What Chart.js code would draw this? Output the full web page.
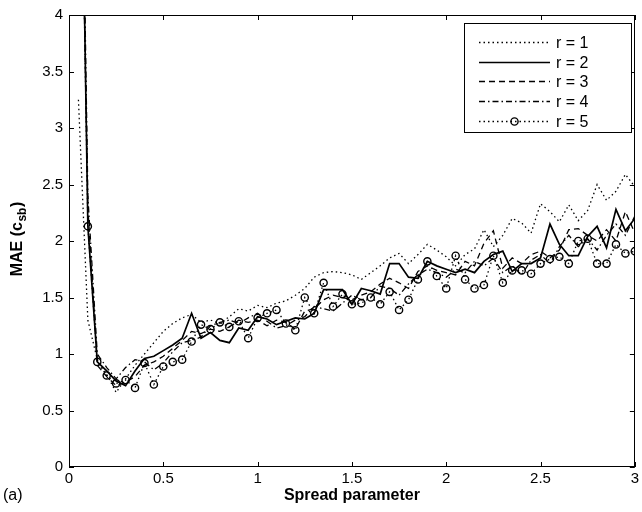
<!DOCTYPE html>
<html><head><meta charset="utf-8">
<script src="https://cdn.jsdelivr.net/npm/chart.js@4/dist/chart.umd.min.js"></script>
<style>html,body{margin:0;padding:0;background:#fff}#wrap{width:642px;height:512px;position:relative}</style>
</head><body><div id="wrap"><canvas id="c" width="642" height="512"></canvas></div>
<script>
const spread = [0.05,0.1,0.15,0.2,0.25,0.3,0.35,0.4,0.45,0.5,0.55,0.6,0.65,0.7,0.75,0.8,0.85,0.9,0.95,1.0,
  1.05,1.1,1.15,1.2,1.25,1.3,1.35,1.4,1.45,1.5,1.55,1.6,1.65,1.7,1.75,1.8,1.85,1.9,1.95,2.0,
  2.05,2.1,2.15,2.2,2.25,2.3,2.35,2.4,2.45,2.5,2.55,2.6,2.65,2.7,2.75,2.8,2.85,2.9,2.95,3.0];
const r1 = [3.25,1.30,0.95,0.82,0.66,0.78,0.90,1.00,1.10,1.20,1.27,1.32,1.35,1.28,1.30,1.27,1.33,1.40,1.38,1.43,
  1.41,1.45,1.47,1.52,1.58,1.68,1.72,1.73,1.72,1.70,1.66,1.72,1.78,1.85,1.89,1.80,1.88,1.97,1.92,1.86,
  1.78,1.88,1.93,2.10,1.95,2.05,2.20,2.16,2.07,2.33,2.26,2.17,2.32,2.18,2.27,2.50,2.36,2.44,2.59,2.48];
const r2 = [7.5,2.13,0.93,0.85,0.76,0.72,0.85,0.96,0.98,1.03,1.08,1.14,1.36,1.14,1.19,1.12,1.10,1.23,1.21,1.33,
  1.31,1.26,1.29,1.32,1.31,1.36,1.57,1.57,1.57,1.44,1.58,1.56,1.53,1.80,1.80,1.68,1.67,1.82,1.78,1.75,
  1.72,1.75,1.72,1.82,1.88,1.91,1.73,1.80,1.80,1.85,2.15,1.97,1.87,1.87,2.04,2.13,1.94,2.28,2.09,2.20];
const r3 = [7.0,2.30,0.90,0.80,0.72,0.75,0.80,0.90,0.93,0.98,1.05,1.12,1.20,1.18,1.22,1.20,1.24,1.30,1.28,1.30,
  1.25,1.30,1.28,1.22,1.38,1.40,1.48,1.52,1.50,1.48,1.52,1.55,1.62,1.67,1.63,1.58,1.73,1.78,1.74,1.72,
  1.70,1.82,1.78,1.98,2.09,1.76,1.85,1.80,1.88,1.91,1.85,1.92,2.10,2.11,2.05,2.00,2.10,2.00,2.26,2.07];
const r4 = [7.8,2.40,1.00,0.88,0.78,0.88,0.95,0.93,0.86,0.92,1.02,1.10,1.12,1.15,1.25,1.28,1.30,1.27,1.32,1.36,
  1.29,1.23,1.25,1.30,1.33,1.42,1.40,1.38,1.45,1.52,1.48,1.50,1.60,1.58,1.52,1.62,1.70,1.75,1.72,1.68,
  1.75,1.72,1.82,1.78,1.85,1.72,1.78,1.70,1.83,1.88,1.80,1.95,2.05,1.95,2.02,1.92,2.05,2.15,2.05,2.22];
const r5 = [7.2,2.13,0.93,0.81,0.74,0.77,0.70,0.92,0.73,0.89,0.93,0.95,1.11,1.26,1.22,1.28,1.24,1.29,1.14,1.32,
  1.36,1.39,1.27,1.21,1.50,1.36,1.63,1.42,1.53,1.44,1.45,1.50,1.44,1.55,1.39,1.48,1.66,1.82,1.69,1.58,
  1.87,1.66,1.58,1.61,1.87,1.63,1.74,1.74,1.71,1.80,1.84,1.86,1.80,2.00,2.02,1.80,1.80,1.97,1.89,1.91];
const seriesLabels = ['r = 1','r = 2','r = 3','r = 4','r = 5'];
const xTickValues = [0,0.5,1,1.5,2,2.5,3];
const yTickValues = [0,0.5,1,1.5,2,2.5,3,3.5,4];
const xTitle = 'Spread parameter';
const yTitleMain = 'MAE (c';
const yTitleSub = 'sb';
const yTitleEnd = ')';
const panelLabel = '(a)';

const FONT = '"Liberation Sans", Arial, Helvetica, sans-serif';
const styles = [
  {borderDash:[1.5,3], borderWidth:1.3, pointRadius:0},
  {borderDash:[], borderWidth:1.7, pointRadius:0},
  {borderDash:[6,4], borderWidth:1.3, pointRadius:0},
  {borderDash:[6,3,1.5,3], borderWidth:1.3, pointRadius:0},
  {borderDash:[1.5,3], borderWidth:1.3, pointRadius:3.6}
];
const allSeries = [r1,r2,r3,r4,r5];
const datasets = allSeries.map((s,k)=>Object.assign({
  label: seriesLabels[k],
  data: spread.map((x,i)=>({x:x, y:s[i]})),
  borderColor:'#000',
  backgroundColor:'rgba(0,0,0,0)',
  pointBorderColor:'#000',
  pointBackgroundColor:'rgba(0,0,0,0)',
  pointBorderWidth:1.4,
  pointStyle:'circle',
  tension:0,
  fill:false
}, styles[k]));

const framePlugin = {
  id:'frame',
  afterDatasetsDraw(chart){
    const {ctx, chartArea:a, scales} = chart;
    const xs = scales.x, ys = scales.y;
    ctx.save();
    ctx.setLineDash([]);
    ctx.strokeStyle = '#000';
    ctx.lineWidth = 1;
    ctx.strokeRect(Math.round(a.left)+0.5, Math.round(a.top)+0.5, Math.round(a.right-a.left)-1, Math.round(a.bottom-a.top)-1);
    const L = 5;
    ctx.beginPath();
    xTickValues.forEach(v=>{
      const px = Math.round(xs.getPixelForValue(v))+0.5;
      ctx.moveTo(px, a.bottom); ctx.lineTo(px, a.bottom-L);
      ctx.moveTo(px, a.top); ctx.lineTo(px, a.top+L);
    });
    yTickValues.forEach(v=>{
      const py = Math.round(ys.getPixelForValue(v))+0.5;
      ctx.moveTo(a.left, py); ctx.lineTo(a.left+L, py);
      ctx.moveTo(a.right, py); ctx.lineTo(a.right-L, py);
    });
    ctx.stroke();

    // legend box
    const lx = Math.round(a.right-171), ly = Math.round(a.top+8), lw = 167, lh = 109;
    ctx.fillStyle = '#fff';
    ctx.fillRect(lx, ly, lw, lh);
    ctx.strokeRect(lx+0.5, ly+0.5, lw, lh);
    chart.data.datasets.forEach((ds,i)=>{
      const y = Math.round(ly + 19 + i*19.7)+0.5;
      const x0 = lx+15, x1 = lx+86;
      ctx.save();
      ctx.setLineDash(ds.borderDash||[]);
      ctx.lineWidth = ds.borderWidth;
      ctx.beginPath(); ctx.moveTo(x0,y); ctx.lineTo(x1,y); ctx.stroke();
      ctx.restore();
      if (ds.pointRadius>0){
        ctx.setLineDash([]);
        ctx.lineWidth = ds.pointBorderWidth;
        ctx.beginPath(); ctx.arc((x0+x1)/2, y, ds.pointRadius, 0, Math.PI*2); ctx.stroke();
      }
      ctx.fillStyle = '#000';
      ctx.font = '16px '+FONT;
      ctx.textBaseline = 'middle';
      ctx.textAlign = 'left';
      ctx.fillText(ds.label, lx+92, y+1);
    });
    ctx.restore();
  },
  afterDraw(chart){
    const ctx = chart.ctx;
    ctx.save();
    ctx.fillStyle = '#000';
    // y title with subscript
    ctx.translate(18, 239);
    ctx.rotate(-Math.PI/2);
    const fMain = 'bold 16px '+FONT, fSub = 'bold 12px '+FONT;
    ctx.font = fMain; const w1 = ctx.measureText(yTitleMain).width; const w3 = ctx.measureText(yTitleEnd).width;
    ctx.font = fSub; const w2 = ctx.measureText(yTitleSub).width;
    const tot = w1+w2+w3+1;
    let x = -tot/2;
    ctx.textBaseline = 'alphabetic'; ctx.textAlign = 'left';
    ctx.font = fMain; ctx.fillText(yTitleMain, x, 4); x += w1+0.5;
    ctx.font = fSub; ctx.fillText(yTitleSub, x, 8); x += w2+0.5;
    ctx.font = fMain; ctx.fillText(yTitleEnd, x, 4);
    ctx.restore();
    ctx.save();
    ctx.fillStyle = '#000';
    ctx.font = '16px '+FONT;
    ctx.textBaseline = 'middle';
    ctx.fillText(panelLabel, 3, 496);
    ctx.restore();
  }
};

new Chart(document.getElementById('c'), {
  type:'line',
  data:{datasets},
  options:{
    responsive:false,
    devicePixelRatio:1,
    animation:false,
    layout:{padding:{top:11,right:5,left:0,bottom:0}},
    plugins:{legend:{display:false}, tooltip:{enabled:false}},
    elements:{line:{borderCapStyle:'butt'}},
    scales:{
      x:{
        type:'linear', min:0, max:3,
        afterBuildTicks:s=>{ s.ticks = xTickValues.map(v=>({value:v})); },
        afterFit:s=>{ s.height = 45; },
        grid:{display:false, drawTicks:false},
        border:{display:false},
        ticks:{color:'#000', font:{family:FONT, size:15}, padding:3, maxRotation:0, autoSkip:false, callback:v=>String(v)},
        title:{display:true, text:xTitle, color:'#000', font:{family:FONT, size:16, weight:'bold'}, padding:{top:0,bottom:7}}
      },
      y:{
        type:'linear', min:0, max:4,
        afterBuildTicks:s=>{ s.ticks = yTickValues.map(v=>({value:v})); },
        afterFit:s=>{ s.width = 69; },
        grid:{display:false, drawTicks:false},
        border:{display:false},
        ticks:{color:'#000', font:{family:FONT, size:15}, padding:6, autoSkip:false, callback:v=>String(v)}
      }
    }
  },
  plugins:[framePlugin]
});
</script>
</body></html>
